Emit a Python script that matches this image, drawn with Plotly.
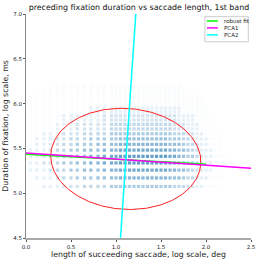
import numpy as np
import plotly.graph_objects as go

# ---- data ----
# saccade-length columns (log deg)
x_cols = [0.05, 0.12, 0.20, 0.27, 0.35, 0.42, 0.50, 0.57, 0.65, 0.72, 0.80, 0.87, 0.95,
          1.00, 1.05, 1.10, 1.15, 1.20, 1.25, 1.30, 1.35, 1.40, 1.45, 1.50, 1.55, 1.60,
          1.65, 1.70, 1.75, 1.80, 1.85, 1.90, 1.95, 2.00, 2.05, 2.10, 2.15, 2.20, 2.25]
# fixation durations (ms) of the rows
dur_rows = [160, 176, 192, 208, 224, 240, 256, 272, 288, 304, 320, 336, 352, 368,
            384, 400, 416, 432, 448, 464, 480, 496]
# density (0-9) per row (bottom to top), one digit per column
density = [
    "11222333444455" "555555555" "5554443322111100",
    "12223445556666" "777777777" "7766654432211100",
    "22234455666777" "888888888" "8877665432221100",
    "22334556677888" "999999999" "9988765543221110",
    "22334556677888" "999999999" "9988765543221110",
    "22234455666777" "888888888" "8877665432221100",
    "12223445556666" "777777777" "7766654432211100",
    "12223344455555" "666666666" "6655544322211100",
    "11222333444455" "555555555" "5554443322111100",
    "11112223333344" "444444444" "4443332221111000",
    "11112223333344" "444444444" "4443332221111000",
    "11111222222333" "333333333" "3333222211110000",
    "11111222222333" "333333333" "3333222211110000",
    "11111111122222" "222222222" "2222211111100000",
    "11111111122222" "222222222" "2222211111100000",
    "11111111111111" "111111111" "1111111111000000",
    "11111111111111" "111111111" "1111111111000000",
    "11111111111111" "111111111" "1111111110000000",
    "01111111111111" "111111111" "1111111100000000",
    "00111111111111" "111111111" "1111111000000000",
    "00011111111111" "111111111" "1111110000000000",
    "00001111111111" "111111111" "1111100000000000",
]

# fitted lines / ellipse
robust_intercept, robust_slope, robust_xmax = 5.436, -0.056, 2.0
pca1_intercept, pca1_slope = 5.449, -0.068
pca2_x_at_45, pca2_dxdy = 1.05, 0.068
ell_center = (1.109, 5.383)
ell_semi = (0.835, 0.563)

# ---- build scatter points ----
px, py, pa = [], [], []
for d, row in zip(dur_rows, density):
    for xc, ch in zip(x_cols, row):
        v = int(ch)
        if v > 0:
            px.append(xc)
            py.append(np.log(d))
            pa.append(0.025 + 0.085 * (v - 1))

fig = go.Figure()
fig.add_trace(go.Scatter(
    x=px, y=py, mode="markers",
    marker=dict(symbol="square", size=3.2, color="#1f77b4", opacity=pa, line=dict(width=0)),
    showlegend=False, hoverinfo="skip"))

# ellipse along the PCA axes
ang = np.arctan(pca1_slope)
t = np.linspace(0, 2 * np.pi, 240)
ex = ell_center[0] + ell_semi[0] * np.cos(t) * np.cos(ang) - ell_semi[1] * np.sin(t) * np.sin(ang)
ey = ell_center[1] + ell_semi[0] * np.cos(t) * np.sin(ang) + ell_semi[1] * np.sin(t) * np.cos(ang)
fig.add_trace(go.Scatter(x=ex, y=ey, mode="lines", line=dict(color="#ff2020", width=1),
                         showlegend=False, hoverinfo="skip"))

# robust fit
rx = [0.0, robust_xmax]
fig.add_trace(go.Scatter(x=rx, y=[robust_intercept + robust_slope * v for v in rx], mode="lines",
                         line=dict(color="#00ff00", width=1.5), name="robust fit", showlegend=False))
# PCA1
p1x = [0.0, 2.5]
fig.add_trace(go.Scatter(x=p1x, y=[pca1_intercept + pca1_slope * v for v in p1x], mode="lines",
                         line=dict(color="#ff00ff", width=1.5), name="PCA1", showlegend=False))
# PCA2
p2y = [4.5, 7.0]
fig.add_trace(go.Scatter(x=[pca2_x_at_45 + pca2_dxdy * (v - 4.5) for v in p2y], y=p2y, mode="lines",
                         line=dict(color="#00ffff", width=1.5), name="PCA2", showlegend=False))

# manual legend
fig.add_shape(type="rect", xref="paper", yref="paper", x0=0.795, x1=0.988, y0=0.876, y1=0.988,
              line=dict(color="#cccccc", width=1), fillcolor="white", layer="above")
leg = [("robust fit", "#00ff00"), ("PCA1", "#ff00ff"), ("PCA2", "#00ffff")]
for i, (nm, col) in enumerate(leg):
    yy = 0.969 - i * 0.031
    fig.add_shape(type="line", xref="paper", yref="paper", x0=0.804, x1=0.853, y0=yy, y1=yy,
                  line=dict(color=col, width=1.5), layer="above")
    fig.add_annotation(xref="paper", yref="paper", x=0.87, y=yy, text=nm, showarrow=False,
                       xanchor="left", yanchor="middle", font=dict(size=5.5, color="#222"))

fig.update_layout(
    width=260, height=262,
    margin=dict(l=26, r=9, t=14, b=24, autoexpand=False),
    plot_bgcolor="white", paper_bgcolor="white",
    font=dict(family="DejaVu Sans", color="#222"),
    title=dict(text="preceding fixation duration vs saccade length, 1st band",
               x=0.502, xanchor="center", xref="paper", y=0.972, yref="container", yanchor="middle",
               font=dict(size=7.9, color="#111"), automargin=False),
)
fig.update_xaxes(range=[0, 2.5], tickvals=[0, 0.5, 1.0, 1.5, 2.0, 2.5], tickformat=".1f",
                 showgrid=False, zeroline=False, showline=True, linecolor="#aaaaaa", linewidth=2,
                 ticks="outside", ticklen=2, tickcolor="#555", tickfont=dict(size=5.5), automargin=False,
                 title=dict(text="length of succeeding saccade, log scale, deg", font=dict(size=7.8), standoff=3))
fig.update_yaxes(range=[4.5, 7.0], tickvals=[4.5, 5.0, 5.5, 6.0, 6.5, 7.0], tickformat=".1f",
                 showgrid=False, zeroline=False, showline=True, linecolor="#888888", linewidth=1,
                 ticks="outside", ticklen=2, tickcolor="#555", tickfont=dict(size=5.5), automargin=False,
                 title=dict(text="Duration of fixation, log scale, ms", font=dict(size=7.8), standoff=3))

fig.write_html("out.html", config={"displayModeBar": False},
               post_script="document.body.style.margin='0px';document.body.style.padding='0px';")
